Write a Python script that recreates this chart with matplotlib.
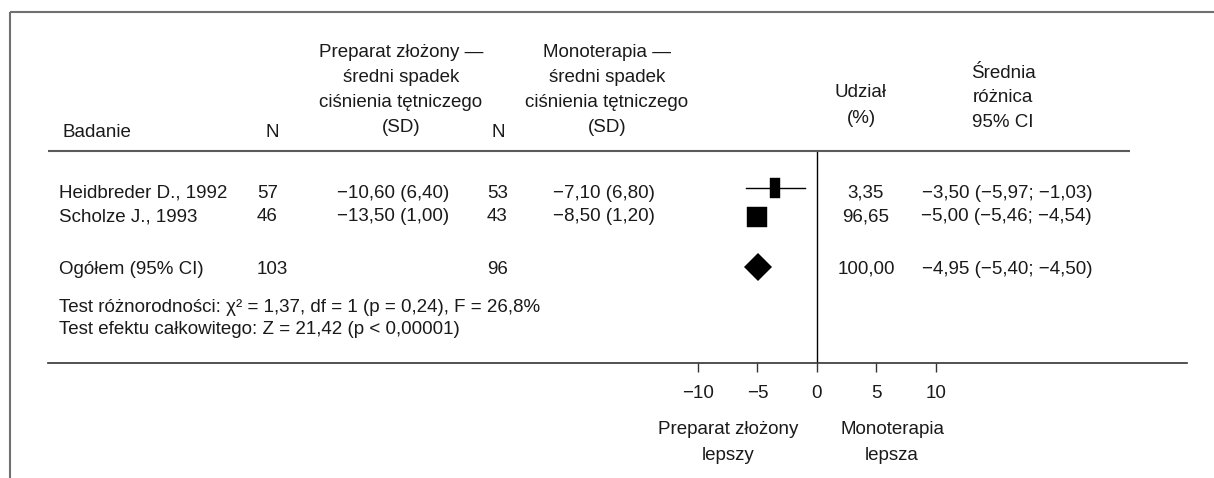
import matplotlib
matplotlib.use("Agg")
import matplotlib.pyplot as plt
from matplotlib.path import Path

plt.rcParams['font.family'] = ['Liberation Sans', 'DejaVu Sans']
plt.rcParams['font.size'] = 13.5

# data
studies = ['Heidbreder D., 1992', 'Scholze J., 1993']
n_comb = [57, 46]
mean_comb = [-10.60, -13.50]
sd_comb = [6.40, 1.00]
n_mono = [53, 43]
mean_mono = [-7.10, -8.50]
sd_mono = [6.80, 1.20]
weight = [3.35, 96.65]
md = [-3.50, -5.00]
ci_lo = [-5.97, -5.46]
ci_hi = [-1.03, -4.54]

total_label = 'Ogółem (95% CI)'
total_n_comb = 103
total_n_mono = 96
total_weight = 100.00
total_md = -4.95
total_lo = -5.40
total_hi = -4.50

test_lines = ['Test różnorodności: χ² = 1,37, df = 1 (p = 0,24), F = 26,8%',
              'Test efektu całkowitego: Z = 21,42 (p < 0,00001)']

xticks = [-10, -5, 0, 5, 10]
left_note = 'Preparat złożony\nlepszy'
right_note = 'Monoterapia\nlepsza'


def fmt(v):
    return f'{v:.2f}'.replace('.', ',').replace('-', '\u2212')


W, H = 1214, 478
fig = plt.figure(figsize=(W / 100, H / 100), dpi=100)

# overlay in pixel coordinates for the table part
bg = fig.add_axes([0, 0, 1, 1])
bg.set_xlim(0, W)
bg.set_ylim(H, 0)
bg.axis('off')

txt = '#1a1a1a'

# frame + header rule
bg.plot([10, W], [12, 12], color='#707070', lw=1.5, solid_capstyle='butt')
bg.plot([10, 10], [12, H], color='#707070', lw=1.5, solid_capstyle='butt')
bg.plot([48, 1130], [151, 151], color='#5a5a5a', lw=1.5, solid_capstyle='butt')

# header
bg.text(62, 137, 'Badanie', color=txt)
bg.text(272, 137, 'N', ha='center', color=txt)
bg.text(498, 137, 'N', ha='center', color=txt)
for line, yb in zip(['Preparat złożony —', 'średni spadek',
                     'ciśnienia tętniczego', '(SD)'], [57, 82, 107, 132]):
    bg.text(401, yb, line, ha='center', color=txt)
for line, yb in zip(['Monoterapia —', 'średni spadek',
                     'ciśnienia tętniczego', '(SD)'], [57, 82, 107, 132]):
    bg.text(607, yb, line, ha='center', color=txt)
bg.text(861, 97, 'Udział', ha='center', color=txt)
bg.text(861, 123, '(%)', ha='center', color=txt)
for line, yb in zip(['Średnia', 'różnica', '95% CI'], [78, 102, 127]):
    bg.text(1003, yb, line, ha='center', color=txt)

# study rows
row_base = [198, 221]
for i, yb in enumerate(row_base):
    bg.text(59, yb, studies[i], color=txt)
    bg.text(257, yb, str(n_comb[i]), color=txt)
    bg.text(337, yb, f'{fmt(mean_comb[i])} ({fmt(sd_comb[i])})', color=txt)
    bg.text(487, yb, str(n_mono[i]), color=txt)
    bg.text(553, yb, f'{fmt(mean_mono[i])} ({fmt(sd_mono[i])})', color=txt)
    bg.text(866, yb, fmt(weight[i]), ha='center', color=txt)
    bg.text(1092, yb, f'{fmt(md[i])} ({fmt(ci_lo[i])}; {fmt(ci_hi[i])})',
            ha='right', color=txt)

tot_base = 274
bg.text(59, tot_base, total_label, color=txt)
bg.text(257, tot_base, str(total_n_comb), color=txt)
bg.text(487, tot_base, str(total_n_mono), color=txt)
bg.text(866, tot_base, fmt(total_weight), ha='center', color=txt)
bg.text(1092, tot_base, f'{fmt(total_md)} ({fmt(total_lo)}; {fmt(total_hi)})',
        ha='right', color=txt)

for line, yb in zip(test_lines, [312, 334]):
    bg.text(59, yb, line, color=txt)

# forest plot axes: zero at x=817 px, ~11.9 px per unit
x0, x1, xz, ppu = 48, 1187, 817, 11.9
y_top, y_bot = 152, 363
ax = fig.add_axes([x0 / W, 1 - y_bot / H, (x1 - x0) / W, (y_bot - y_top) / H])
ax.set_xlim(-(xz - x0) / ppu, (x1 - xz) / ppu)
ax.set_ylim(y_bot, y_top)
ax.patch.set_alpha(0)
for s in ['top', 'left', 'right']:
    ax.spines[s].set_visible(False)
ax.spines['bottom'].set_color('#333333')
ax.spines['bottom'].set_linewidth(1.2)
ax.set_yticks([])
ax.set_xticks(xticks)
ax.set_xticklabels([str(t).replace('-', '\u2212') for t in xticks], color=txt)
ax.tick_params(axis='x', direction='out', length=6.5, width=1.0,
               color='#333333', pad=9)
ax.axvline(0, color='black', lw=1.0)

marker_y = [188, 216.5]
rect = Path([(-0.27, -0.5), (0.27, -0.5), (0.27, 0.5), (-0.27, 0.5), (0, 0)],
            [Path.MOVETO, Path.LINETO, Path.LINETO, Path.LINETO, Path.CLOSEPOLY])
markers = [rect, 's']
msizes = [13.7, 14.0]
for i, ym in enumerate(marker_y):
    ax.plot([ci_lo[i], ci_hi[i]], [ym, ym], color='black', lw=1.0)
    ax.plot(md[i], ym, marker=markers[i], ms=msizes[i], color='black',
            mec='black', mew=0.3, ls='none')

ax.plot(total_md, 267, marker='D', ms=14.5, color='black', mew=0, ls='none')

bg.text(728, 434, left_note.split('\n')[0], ha='center', color=txt)
bg.text(728, 460, left_note.split('\n')[1], ha='center', color=txt)
bg.text(892, 434, right_note.split('\n')[0], ha='center', color=txt)
bg.text(892, 460, right_note.split('\n')[1], ha='center', color=txt)

fig.savefig('out.png', dpi=100)
